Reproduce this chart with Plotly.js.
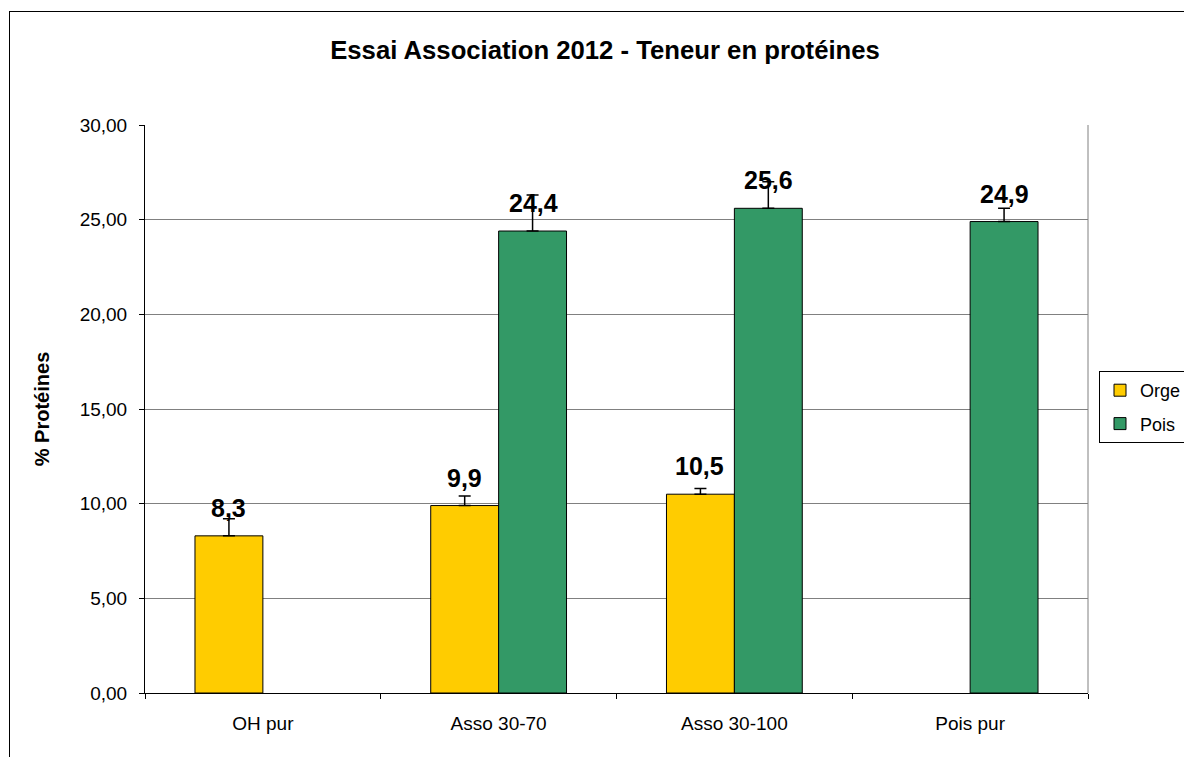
<!DOCTYPE html>
<html>
<head>
<meta charset="utf-8">
<script src="https://cdn.plot.ly/plotly-3.0.1.min.js"></script>
<style>
  html, body { margin: 0; padding: 0; background: #fff; width: 1184px; height: 757px; overflow: hidden; }
  #frame { position: absolute; left: 9px; top: 11px; width: 1175px; height: 746px; border-left: 1px solid #000; border-top: 1px solid #000; box-sizing: border-box; }
  #chart { position: absolute; left: 0; top: 0; width: 1184px; height: 757px; }
</style>
</head>
<body>
<div id="frame"></div>
<div id="chart"></div>
<script>
const categories = ["OH pur", "Asso 30-70", "Asso 30-100", "Pois pur"];
const orgeValues = [8.3, 9.9, 10.5, null];
const orgeErrors = [0.9, 0.5, 0.3, null];
const poisValues = [null, 24.4, 25.6, 24.9];
const poisErrors = [null, 1.9, 1.4, 0.7];

const fmt = v => v.toFixed(1).replace('.', ',');
const FONT = 'Liberation Sans, Arial, sans-serif';

const traces = [
  {
    type: 'bar', name: 'Orge', x: categories, y: orgeValues, legendgroup: 'g1',
    marker: { color: '#FFCC00', line: { color: '#000', width: 1 } },
    error_y: { type: 'data', symmetric: false, array: orgeErrors, arrayminus: orgeErrors.map(() => 0),
               color: '#000', thickness: 1.5, width: 6 },
    hoverinfo: 'skip'
  },
  {
    type: 'bar', name: 'Pois', x: categories, y: poisValues, legendgroup: 'g2',
    marker: { color: '#339966', line: { color: '#000', width: 1 } },
    error_y: { type: 'data', symmetric: false, array: poisErrors, arrayminus: poisErrors.map(() => 0),
               color: '#000', thickness: 1.5, width: 6 },
    hoverinfo: 'skip'
  }
];

const annotations = [];
[[orgeValues, -34.5], [poisValues, 34.5]].forEach(([vals, dx]) => {
  vals.forEach((v, i) => {
    if (v === null) return;
    annotations.push({
      x: categories[i], y: v, xref: 'x', yref: 'y', text: '<b>' + fmt(v) + '</b>',
      showarrow: false, xshift: dx, yshift: 28, yanchor: 'middle',
      font: { family: FONT, size: 25, color: '#000' }
    });
  });
});

const layout = {
  width: 1184, height: 757,
  margin: { l: 145, r: 96, t: 125, b: 64 },
  paper_bgcolor: 'rgba(0,0,0,0)',
  plot_bgcolor: '#fff',
  separators: ', ',
  font: { family: FONT, size: 19, color: '#000' },
  title: {
    text: '<b>Essai Association 2012 - Teneur en protéines</b>',
    x: 0.511, xanchor: 'center', y: 0.934, yanchor: 'middle',
    font: { family: FONT, size: 25.7, color: '#000' }
  },
  barmode: 'group', bargap: 0.424, bargroupgap: 0,
  xaxis: {
    type: 'category', range: [-0.5, 3.5], tickson: 'boundaries',
    ticks: 'outside', ticklen: 5, tickcolor: '#000', tickwidth: 1,
    showline: true, linecolor: '#000', linewidth: 1, showgrid: false,
    tickfont: { size: 19, color: '#000' }, automargin: false, ticklabelstandoff: 13
  },
  yaxis: {
    range: [0, 30], dtick: 5, tickformat: '.2f',
    ticks: 'outside', ticklen: 5, tickcolor: '#000', tickwidth: 1,
    showline: true, linecolor: '#000', linewidth: 1,
    showgrid: true, gridcolor: '#808080', gridwidth: 1, zeroline: false,
    tickfont: { size: 19, color: '#000' }, automargin: false, ticklabelstandoff: 8,
    title: { text: '<b>% Protéines</b>', standoff: 24, font: { size: 20, color: '#000' } }
  },
  legend: {
    xref: 'container', yref: 'container',
    x: 1099 / 1184, xanchor: 'left', y: 1 - 371 / 757, yanchor: 'top',
    bgcolor: '#fff', bordercolor: '#000', borderwidth: 1,
    font: { size: 18, color: '#000' }, traceorder: 'grouped', tracegroupgap: 7
  },
  shapes: [
    { type: 'line', xref: 'paper', yref: 'paper', x0: 1, x1: 1, y0: 0, y1: 1, line: { color: '#808080', width: 1 } }
  ],
  annotations: annotations
};

Plotly.newPlot('chart', traces, layout, { displayModeBar: false, staticPlot: true });
</script>
</body>
</html>
